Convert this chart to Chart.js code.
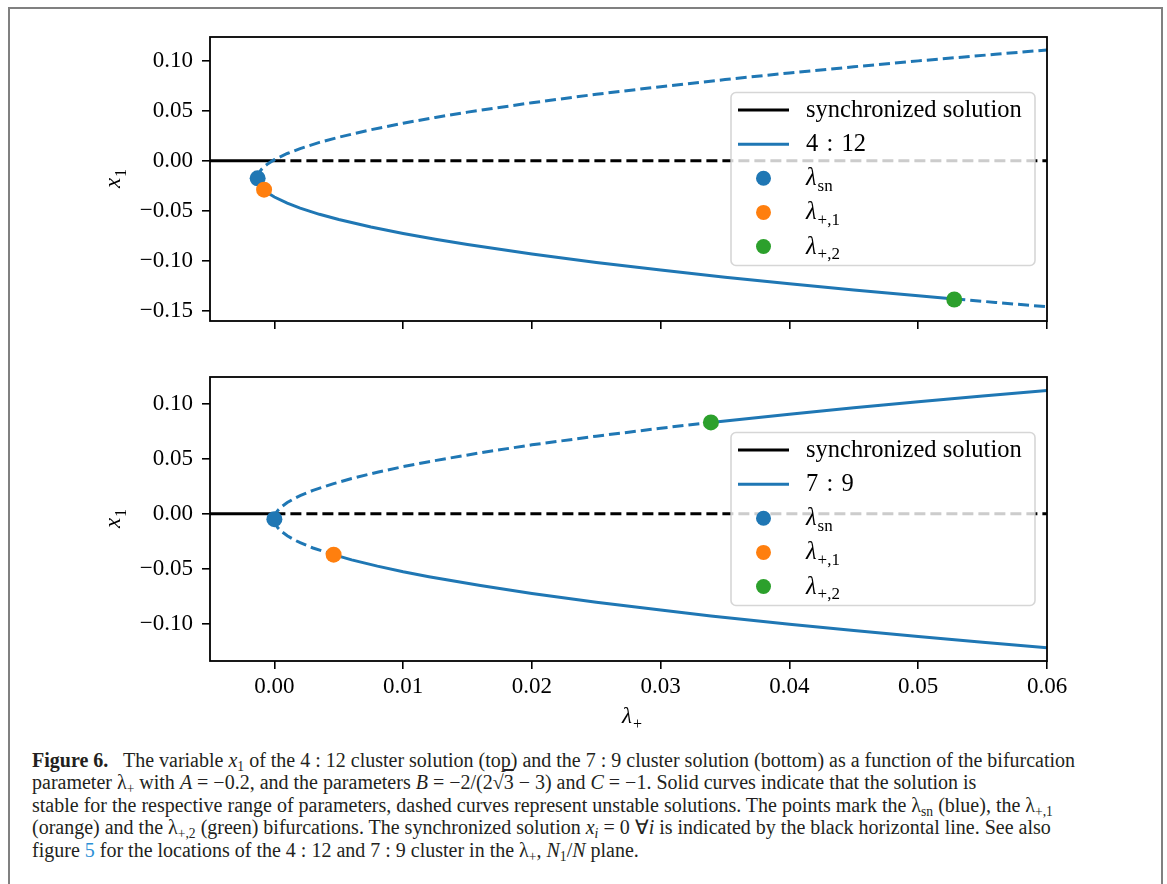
<!DOCTYPE html>
<html>
<head>
<meta charset="utf-8">
<script src="https://cdn.jsdelivr.net/npm/chart.js@4.4.1/dist/chart.umd.min.js"></script>
<style>
  html, body { margin: 0; padding: 0; background: #fff; overflow: hidden; }
  #page { position: relative; width: 1167px; height: 884px; overflow: hidden; }
  #frame { position: absolute; left: 8px; top: 7px; width: 1151px; height: 900px; border: 2px solid #808080; }
  canvas { position: absolute; left: 0; }
  #top-chart { top: 0; }
  #bottom-chart { top: 345px; }
  #caption {
    position: absolute; left: 32px; top: 749px;
    font-family: 'Liberation Serif', serif; font-size: 20px; line-height: 22.4px;
    color: #231f20; white-space: nowrap;
  }
  #caption sub { font-size: 0.68em; line-height: 0; vertical-align: -0.28em; }
  #caption .ov { text-decoration: overline; }
  #caption .link { color: #2b8fd6; }
</style>
</head>
<body>
<div id="page">
  <div id="frame"></div>
  <canvas id="top-chart" width="1167" height="345"></canvas>
  <canvas id="bottom-chart" width="1167" height="400"></canvas>
  <div id="caption">
    <b>Figure 6.</b>&nbsp;&nbsp; The variable <i>x</i><sub>1</sub> of the 4 : 12 cluster solution (top) and the 7 : 9 cluster solution (bottom) as a function of the bifurcation<br>
    parameter λ<sub>+</sub> with <i>A</i> = −0.2, and the parameters <i>B</i> = −2/(2√<span class="ov">3</span> − 3) and <i>C</i> = −1. Solid curves indicate that the solution is<br>
    stable for the respective range of parameters, dashed curves represent unstable solutions. The points mark the λ<sub>sn</sub> (blue), the λ<sub>+,1</sub><br>
    (orange) and the λ<sub>+,2</sub> (green) bifurcations. The synchronized solution <i>x<sub>i</sub></i> = 0 ∀<i>i</i> is indicated by the black horizontal line. See also<br>
    figure <span class="link">5</span> for the locations of the 4 : 12 and 7 : 9 cluster in the λ<sub>+</sub>, <i>N</i><sub>1</sub>/<i>N</i> plane.
  </div>
</div>
<script>
const blue = '#1f77b4', orange = '#ff7f0e', green = '#2ca02c';
const dash = [11, 5];
const serif = "'Liberation Serif', 'DejaVu Serif', serif";

// axes
const lambdaMin = -0.005, lambdaMax = 0.06;
const lambdaTicks = [0.00, 0.01, 0.02, 0.03, 0.04, 0.05, 0.06];
const topYRange = [-0.1603, 0.124];
const topYTicks = [-0.15, -0.10, -0.05, 0.00, 0.05, 0.10];
const bottomYRange = [-0.134, 0.1243];
const bottomYTicks = [-0.10, -0.05, 0.00, 0.05, 0.10];

// synchronized solution x_i = 0 (stable for lambda < 0)
const syncLambda = [-0.005, 0.0, 0.06];
const syncX = [0, 0, 0];
const syncStable = [true, false, false];

// 4 : 12 cluster (top); a stable flag holds for the segment starting at that point
const topLambda = [-0.0013, -0.0012, -0.0011, -0.0010, -0.0008, -0.0005, 0.0000, 0.0010, 0.0020, 0.0035,
                   0.0050, 0.0075, 0.0100, 0.0125, 0.0150, 0.0200, 0.0250, 0.0300, 0.0350, 0.0400,
                   0.0450, 0.0500, 0.0528, 0.0560, 0.0600];
const topUpper = [-0.0175, -0.0123, -0.0102, -0.0085, -0.0059, -0.0028, 0.0012, 0.0074, 0.0123, 0.0185,
                  0.0237, 0.0312, 0.0377, 0.0435, 0.0488, 0.0582, 0.0667, 0.0743, 0.0814, 0.0880,
                  0.0942, 0.1001, 0.1032, 0.1067, 0.1110];
const topLower = [-0.0175, -0.0227, -0.0248, -0.0265, -0.0291, -0.0322, -0.0362, -0.0424, -0.0473, -0.0535,
                  -0.0587, -0.0662, -0.0727, -0.0785, -0.0838, -0.0932, -0.1017, -0.1093, -0.1164, -0.1230,
                  -0.1292, -0.1351, -0.1382, -0.1417, -0.1460];
const topUpperStable = [false, false, false, false, false, false, false, false, false, false,
                        false, false, false, false, false, false, false, false, false, false,
                        false, false, false, false, false];
const topLowerStable = [false, false, false, false, true, true, true, true, true, true,
                        true, true, true, true, true, true, true, true, true, true,
                        true, true, false, false, false];
const topBifLambda = [-0.0013, -0.0008, 0.0528];
const topBifX = [-0.0175, -0.0288, -0.1388];

// 7 : 9 cluster (bottom)
const bottomLambda = [0.0000, 0.0001, 0.0002, 0.0003, 0.0005, 0.0010, 0.0015, 0.0020, 0.0030, 0.0046,
                      0.0060, 0.0080, 0.0100, 0.0120, 0.0160, 0.0200, 0.0250, 0.0300, 0.0339, 0.0400,
                      0.0450, 0.0500, 0.0550, 0.0600];
const bottomUpper = [-0.0050, -0.0002, 0.0018, 0.0033, 0.0057, 0.0101, 0.0135, 0.0164, 0.0212, 0.0273,
                     0.0320, 0.0377, 0.0428, 0.0473, 0.0554, 0.0626, 0.0705, 0.0777, 0.0830, 0.0905,
                     0.0963, 0.1018, 0.1070, 0.1120];
const bottomLower = [-0.0050, -0.0098, -0.0118, -0.0133, -0.0157, -0.0201, -0.0235, -0.0264, -0.0312, -0.0373,
                     -0.0420, -0.0477, -0.0528, -0.0573, -0.0654, -0.0726, -0.0805, -0.0877, -0.0930, -0.1005,
                     -0.1063, -0.1118, -0.1170, -0.1220];
const bottomUpperStable = [false, false, false, false, false, false, false, false, false, false,
                           false, false, false, false, false, false, false, false, true, true,
                           true, true, true, true];
const bottomLowerStable = [false, false, false, false, false, false, false, false, false, true,
                           true, true, true, true, true, true, true, true, true, true,
                           true, true, true, true];
const bottomBifLambda = [0.0000, 0.0046, 0.0339];
const bottomBifX = [-0.0050, -0.0373, 0.0830];

// legend
const bifColors = [blue, orange, green];
const bifSubscripts = ['sn', '+,1', '+,2'];
const syncLabel = 'synchronized solution';

Chart.defaults.font.family = serif;

function tickLabel(v) {
  if (Math.abs(v) < 1e-9) return '0.00';
  return (v < 0 ? '\u2212' : '') + Math.abs(v).toFixed(2);
}

function points(xs, ys) {
  return xs.map((x, i) => ({ x: x, y: ys[i] }));
}

// draws a little formula made of roman / italic / subscript pieces
function drawMath(ctx, parts, x, y, size, align) {
  const fontOf = p => p.sub ? Math.round(size * 0.7) + 'px ' + serif
                            : (p.it ? 'italic ' : '') + size + 'px ' + serif;
  const widths = parts.map(p => { ctx.font = fontOf(p); return ctx.measureText(p.t).width; });
  const total = widths.reduce((a, b) => a + b, 0);
  let cx = align === 'center' ? x - total / 2 : x;
  ctx.textAlign = 'left';
  ctx.textBaseline = 'alphabetic';
  ctx.fillStyle = '#000';
  parts.forEach((p, i) => {
    ctx.font = fontOf(p);
    ctx.fillText(p.t, cx, y + (p.sub ? size * 0.24 : 0));
    cx += widths[i] + (p.sub ? 0 : 1);
  });
}

function styledLine(xs, ys, stable, color, order) {
  return {
    data: points(xs, ys),
    borderColor: color,
    borderWidth: 3,
    showLine: true,
    pointRadius: 0,
    pointHoverRadius: 0,
    tension: 0,
    order: order,
    segment: { borderDash: ctx => stable[ctx.p0DataIndex] ? [] : dash }
  };
}

function makeOverlay(clusterLabel, showXTitle) {
  return {
    id: 'overlay',
    afterDatasetsDraw(chart) {
      const ctx = chart.ctx, a = chart.chartArea;
      ctx.save();
      // spines
      ctx.strokeStyle = '#000';
      ctx.lineWidth = 1.8;
      ctx.strokeRect(a.left, a.top, a.width, a.height);

      // legend, center right
      const w = 304, h = 173;
      const x0 = a.right - 12 - w, y0 = (a.top + a.bottom) / 2 - h / 2;
      ctx.beginPath();
      ctx.roundRect(x0, y0, w, h, 5);
      ctx.fillStyle = 'rgba(255,255,255,0.8)';
      ctx.fill();
      ctx.strokeStyle = 'rgba(204,204,204,0.8)';
      ctx.lineWidth = 1.6;
      ctx.stroke();

      const rows = [
        { color: '#000', label: [{ t: syncLabel }] },
        { color: blue, label: [{ t: clusterLabel }] }
      ];
      bifSubscripts.forEach((s, i) => rows.push({ marker: bifColors[i], label: [{ t: 'λ', it: true }, { t: s, sub: true }] }));
      rows.forEach((r, i) => {
        const y = y0 + 17.6 + i * 34.1;
        if (r.marker) {
          ctx.beginPath();
          ctx.arc(x0 + 32.5, y, 7.5, 0, Math.PI * 2);
          ctx.fillStyle = r.marker;
          ctx.fill();
        } else {
          ctx.beginPath();
          ctx.moveTo(x0 + 7, y);
          ctx.lineTo(x0 + 58, y);
          ctx.strokeStyle = r.color;
          ctx.lineWidth = 3;
          ctx.stroke();
        }
        drawMath(ctx, r.label, x0 + 75, y + 7, 24.5, 'left');
      });

      // y title x_1
      ctx.save();
      ctx.translate(a.left - 90, (a.top + a.bottom) / 2);
      ctx.rotate(-Math.PI / 2);
      drawMath(ctx, [{ t: 'x', it: true }, { t: '1', sub: true }], 0, 0, 23, 'center');
      ctx.restore();

      // x title lambda_+
      if (showXTitle) {
        drawMath(ctx, [{ t: 'λ', it: true }, { t: '+', sub: true }], (a.left + a.right) / 2 + 3, a.bottom + 62, 23, 'center');
      }
      ctx.restore();
    }
  };
}

function makeChart(id, panel) {
  const datasets = [
    styledLine(syncLambda, syncX, syncStable, '#000', 3),
    styledLine(panel.lambda, panel.upper, panel.upperStable, blue, 2),
    styledLine(panel.lambda, panel.lower, panel.lowerStable, blue, 2),
    {
      data: points(panel.bifLambda, panel.bifX),
      showLine: false,
      pointRadius: 8,
      pointHoverRadius: 8,
      pointBackgroundColor: bifColors,
      pointBorderWidth: 0,
      order: 1
    }
  ];
  return new Chart(document.getElementById(id), {
    type: 'scatter',
    data: { datasets: datasets },
    options: {
      responsive: false,
      animation: false,
      events: [],
      layout: { padding: { left: 0, top: panel.top, right: 120, bottom: 0 } },
      plugins: { legend: { display: false }, tooltip: { enabled: false } },
      scales: {
        x: {
          type: 'linear',
          min: lambdaMin,
          max: lambdaMax,
          afterBuildTicks: s => { s.ticks = lambdaTicks.map(v => ({ value: v })); },
          afterFit: s => { s.height = panel.xAxisHeight; },
          border: { display: false },
          grid: { drawOnChartArea: false, drawTicks: true, tickLength: 8, color: '#000', lineWidth: 1.6 },
          ticks: {
            display: panel.xLabels,
            callback: tickLabel,
            color: '#000',
            font: { family: serif, size: 23 },
            padding: 4,
            maxRotation: 0,
            autoSkip: false
          }
        },
        y: {
          type: 'linear',
          min: panel.yRange[0],
          max: panel.yRange[1],
          afterBuildTicks: s => { s.ticks = panel.yTicks.map(v => ({ value: v })); },
          afterFit: s => { s.width = 210; },
          border: { display: false },
          grid: { drawOnChartArea: false, drawTicks: true, tickLength: 8, color: '#000', lineWidth: 1.6 },
          ticks: {
            callback: tickLabel,
            color: '#000',
            font: { family: serif, size: 23 },
            padding: 9,
            autoSkip: false
          }
        }
      }
    },
    plugins: [makeOverlay(panel.clusterLabel, panel.xLabels)]
  });
}

makeChart('top-chart', {
  lambda: topLambda, upper: topUpper, lower: topLower,
  upperStable: topUpperStable, lowerStable: topLowerStable,
  bifLambda: topBifLambda, bifX: topBifX,
  yRange: topYRange, yTicks: topYTicks,
  clusterLabel: '4\u2004:\u200412', xLabels: false, top: 37, xAxisHeight: 24
});

makeChart('bottom-chart', {
  lambda: bottomLambda, upper: bottomUpper, lower: bottomLower,
  upperStable: bottomUpperStable, lowerStable: bottomLowerStable,
  bifLambda: bottomBifLambda, bifX: bottomBifX,
  yRange: bottomYRange, yTicks: bottomYTicks,
  clusterLabel: '7\u2004:\u20049', xLabels: true, top: 32, xAxisHeight: 84
});
</script>
</body>
</html>
